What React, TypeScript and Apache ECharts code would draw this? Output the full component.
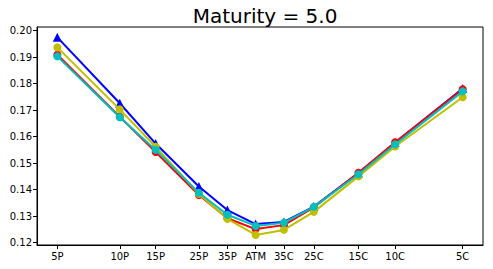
import React, { useEffect, useRef } from "react";
import * as echarts from "echarts";

const categories = ["5P", "10P", "15P", "25P", "35P", "ATM", "35C", "25C", "15C", "10C", "5C"];
const xPositions = [-7.02, -4.81, -3.54, -2.01, -1.0, 0, 1.0, 2.06, 3.64, 4.94, 7.33];
const redVals = [0.1909, 0.1675, 0.1542, 0.1380, 0.1292, 0.1251, 0.1266, 0.1333, 0.1464, 0.1579, 0.1779];
const blueVals = [0.1975, 0.1726, 0.1574, 0.1412, 0.1323, 0.1270, 0.1278, 0.1336, 0.1463, 0.1578, 0.1782];
const yellowVals = [0.1937, 0.1703, 0.1562, 0.1384, 0.1290, 0.1229, 0.1248, 0.1316, 0.1450, 0.1563, 0.1749];
const cyanVals = [0.1903, 0.1673, 0.1550, 0.1388, 0.1305, 0.1263, 0.1275, 0.1335, 0.1458, 0.1571, 0.1771];
const yTicks = [0.12, 0.13, 0.14, 0.15, 0.16, 0.17, 0.18, 0.19, 0.2];
const titleText = "Maturity = 5.0";

const FONT = "DejaVu Sans";

function labelFor(v: number): string {
  let best = 0;
  let bd = Infinity;
  xPositions.forEach((p, i) => {
    const d = Math.abs(p - v);
    if (d < bd) {
      bd = d;
      best = i;
    }
  });
  return bd < 0.01 ? categories[best] : "";
}

function mkSeries(name: string, vals: number[], color: string, symbol: string, z: number) {
  return {
    name,
    type: "line",
    data: vals.map((v, i) => [xPositions[i], v]),
    symbol,
    symbolSize: symbol === "triangle" ? 9 : 8,
    showSymbol: true,
    z,
    lineStyle: { color, width: 2 },
    itemStyle: { color, borderWidth: 0 },
    emphasis: { disabled: true },
  };
}

export default function App() {
  const ref = useRef<HTMLDivElement>(null);
  useEffect(() => {
    if (!ref.current) return;
    const chart = echarts.init(ref.current, null, { renderer: "svg" });
    chart.setOption({
      animation: false,
      backgroundColor: "#ffffff",
      title: {
        text: titleText,
        left: 260,
        textAlign: "center",
        top: 1,
        textStyle: { fontFamily: FONT, fontSize: 20, fontWeight: "normal", color: "#000" },
      },
      grid: {
        left: 37,
        right: 10,
        top: 27,
        bottom: 24,
        show: true,
        borderColor: "#000",
        borderWidth: 1,
        backgroundColor: "transparent",
      },
      xAxis: {
        type: "value",
        min: -7.74,
        max: 8.05,
        splitLine: { show: false },
        axisLine: { show: true, onZero: false, lineStyle: { color: "#000", width: 1 } },
        axisTick: { show: true, customValues: xPositions, length: 4, lineStyle: { color: "#000" } },
        axisLabel: {
          customValues: xPositions,
          formatter: (v: number) => labelFor(v),
          fontFamily: FONT,
          fontSize: 10,
          color: "#000",
          margin: 6,
        },
      },
      yAxis: {
        type: "value",
        min: 0.1191,
        max: 0.2014,
        splitLine: { show: false },
        axisLine: { show: true, onZero: false, lineStyle: { color: "#000", width: 1 } },
        axisTick: { show: true, customValues: yTicks, length: 4, lineStyle: { color: "#000" } },
        axisLabel: {
          customValues: yTicks,
          formatter: (v: number) => v.toFixed(2),
          fontFamily: FONT,
          fontSize: 10,
          color: "#000",
          margin: 5,
        },
      },
      series: [
        mkSeries("blue", blueVals, "#0000ff", "triangle", 2),
        mkSeries("red", redVals, "#ff0000", "circle", 3),
        mkSeries("yellow", yellowVals, "#bfbf00", "circle", 4),
        mkSeries("cyan", cyanVals, "#00bfbf", "circle", 5),
      ],
    });
    return () => chart.dispose();
  }, []);
  return <div ref={ref} style={{ width: 493, height: 269, position: "absolute", left: 0, top: 0 }} />;
}
